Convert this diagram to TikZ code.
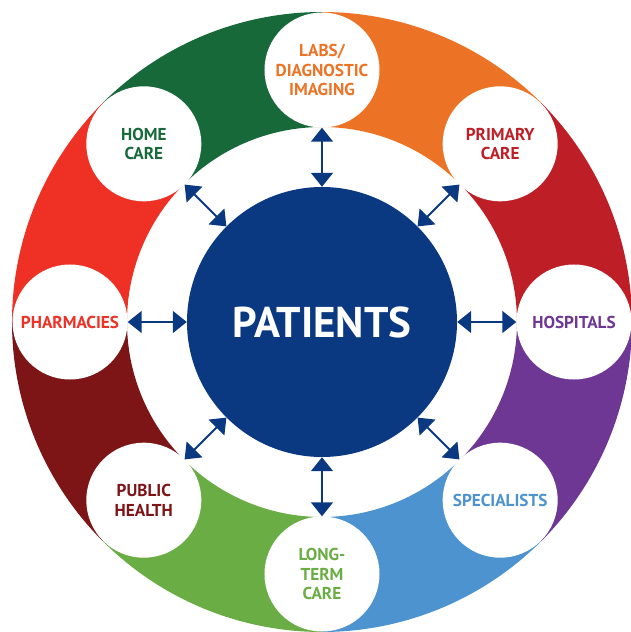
\documentclass[tikz,border=0pt]{standalone}
\usepackage{fontspec}
\setmainfont{PT Sans}
\usepackage{tikz}
\usetikzlibrary{arrows.meta, positioning}

\definecolor{ringorange}{HTML}{EC7325}
\definecolor{ringcrimson}{HTML}{BE1F26}
\definecolor{ringpurple}{HTML}{6E3794}
\definecolor{ringsky}{HTML}{4C93CF}
\definecolor{ringgreen}{HTML}{6AAD45}
\definecolor{ringmaroon}{HTML}{7D1416}
\definecolor{ringred}{HTML}{EE3124}
\definecolor{ringforest}{HTML}{17693A}
\definecolor{patientblue}{HTML}{0A3981}

\tikzset{
	sat/.style={circle, fill=white, minimum size=115pt, inner sep=0pt, align=center,
		font=\bfseries\fontsize{17.2}{19.5}\selectfont},
	biarrow/.style={{Triangle[length=14pt,width=22pt]}-{Triangle[length=14pt,width=22pt]},
		line width=1.8pt, patientblue}
}

\begin{document}
\begin{tikzpicture}[x=1pt, y=1pt]
			\useasboundingbox (-322,-310) rectangle (308,322);
			
			% coloured ring, one piece per sector
			\foreach \a/\b/\c in {90/45/ringorange, 45/0/ringcrimson, 0/-45/ringpurple, -45/-90/ringsky,
				-90/-135/ringgreen, -135/-180/ringmaroon, 180/135/ringred, 135/90/ringforest}
			\fill[\c] (\a:310) arc[start angle=\a, end angle=\b, radius=310] -- (\b:195)
				arc[start angle=\b, end angle=\a, radius=195] -- cycle;
			
			\node[circle, fill=patientblue, minimum size=270pt, inner sep=0pt, text=white,
				font=\bfseries\fontsize{43}{46}\selectfont] (patients) at (0,0) {PATIENTS};
			
			\node[sat, text=ringorange] (labs) at (90:252) {LABS/\\DIAGNOSTIC\\IMAGING};
			\node[sat, text=ringcrimson] (primary) at (45:252) {PRIMARY\\CARE};
			\node[sat, text=ringpurple] (hospitals) at (0:252) {HOSPITALS};
			\node[sat, text=ringsky] (specialists) at (-45:252) {SPECIALISTS};
			\node[sat, text=ringgreen] (longterm) at (-90:252) {LONG-\\TERM\\CARE};
			\node[sat, text=ringmaroon] (public) at (-135:252) {PUBLIC\\HEALTH};
			\node[sat, text=ringred] (pharmacies) at (180:252) {PHARMACIES};
			\node[sat, text=ringforest] (home) at (135:252) {HOME\\CARE};
			
			\foreach \s in {labs, primary, hospitals, specialists, longterm, public, pharmacies, home}
			\draw[biarrow] (patients) -- (\s);
\end{tikzpicture}
\end{document}
